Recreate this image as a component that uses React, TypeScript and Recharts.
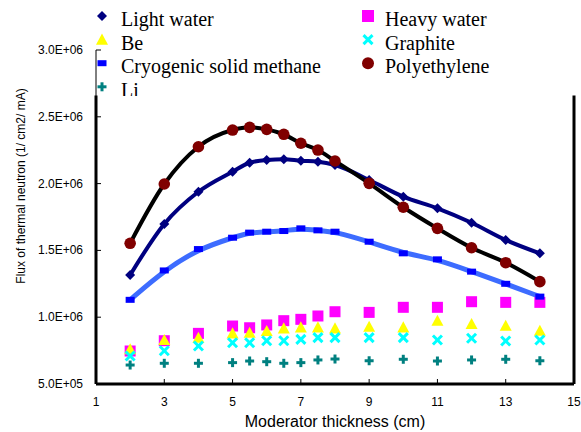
import React from "react"
import { ComposedChart, Line, XAxis, YAxis, ReferenceLine } from "recharts"

// moderator thickness (cm)
const thickness = [2, 3, 4, 5, 5.5, 6, 6.5, 7, 7.5, 8, 9, 10, 11, 12, 13, 14]

// flux of thermal neutron (1/cm2/mA)
const lightWater = [1.316e6, 1.698e6, 1.939e6, 2.089e6, 2.156e6, 2.177e6, 2.182e6, 2.171e6, 2.164e6, 2.139e6, 2.027e6, 1.902e6, 1.815e6, 1.707e6, 1.578e6, 1.478e6]
const heavyWater = [7.47e5, 8.24e5, 8.79e5, 9.34e5, 9.21e5, 9.42e5, 9.74e5, 9.84e5, 1.009e6, 1.041e6, 1.036e6, 1.074e6, 1.074e6, 1.116e6, 1.111e6, 1.111e6]
const be = [7.6e5, 8.3e5, 8.47e5, 8.79e5, 8.84e5, 8.97e5, 9.17e5, 9.24e5, 9.24e5, 9.17e5, 9.29e5, 9.24e5, 9.74e5, 9.49e5, 9.36e5, 8.99e5]
const graphite = [7.1e5, 7.49e5, 7.84e5, 8.09e5, 8.09e5, 8.24e5, 8.24e5, 8.34e5, 8.47e5, 8.47e5, 8.47e5, 8.47e5, 8.29e5, 8.42e5, 8.22e5, 8.29e5]
const methane = [1.13e6, 1.35e6, 1.51e6, 1.595e6, 1.633e6, 1.64e6, 1.645e6, 1.665e6, 1.65e6, 1.64e6, 1.565e6, 1.478e6, 1.433e6, 1.341e6, 1.25e6, 1.154e6]
const polyethylene = [1.553e6, 1.997e6, 2.276e6, 2.401e6, 2.421e6, 2.406e6, 2.369e6, 2.302e6, 2.251e6, 2.169e6, 2.002e6, 1.823e6, 1.665e6, 1.52e6, 1.408e6, 1.266e6]
const li = [6.42e5, 6.55e5, 6.55e5, 6.6e5, 6.72e5, 6.67e5, 6.55e5, 6.6e5, 6.8e5, 6.87e5, 6.74e5, 6.85e5, 6.72e5, 6.8e5, 6.85e5, 6.74e5]

const xTicks = [1, 3, 5, 7, 9, 11, 13, 15]
const yTicks = [5e5, 1e6, 1.5e6, 2e6, 2.5e6, 3e6]
const yTickLabels = ["5.0E+05", "1.0E+06", "1.5E+06", "2.0E+06", "2.5E+06", "3.0E+06"]

// top of the plot frame (hidden above by the legend)
const frameTop = 2.66e6

const rows = thickness.map((t, i) => ({
  t,
  lightWater: lightWater[i],
  heavyWater: heavyWater[i],
  be: be[i],
  graphite: graphite[i],
  methane: methane[i],
  polyethylene: polyethylene[i],
  li: li[i],
}))

const SANS = "'Liberation Sans', Arial, sans-serif"
const SERIF = "'Liberation Serif', 'Times New Roman', serif"

type Mark = (cx: number, cy: number, k?: string) => React.ReactElement

const diamond = (s: number): Mark => (cx, cy, k) => (
  <polygon key={k} points={`${cx},${cy - s} ${cx + s},${cy} ${cx},${cy + s} ${cx - s},${cy}`} fill="#000080" />
)
const square = (s: number): Mark => (cx, cy, k) => (
  <rect key={k} x={cx - s} y={cy - s} width={s * 2} height={s * 2} fill="#FF00FF" />
)
const triangle = (s: number): Mark => (cx, cy, k) => (
  <polygon key={k} points={`${cx},${cy - s} ${cx + s},${cy + s * 0.85} ${cx - s},${cy + s * 0.85}`} fill="#FFFF00" />
)
const cross = (s: number): Mark => (cx, cy, k) => (
  <g key={k} stroke="#00FFFF" strokeWidth={3}>
    <line x1={cx - s} y1={cy - s} x2={cx + s} y2={cy + s} />
    <line x1={cx - s} y1={cy + s} x2={cx + s} y2={cy - s} />
  </g>
)
const dash = (w: number, h: number): Mark => (cx, cy, k) => (
  <rect key={k} x={cx - w / 2} y={cy - h / 2} width={w} height={h} fill="#0000FF" />
)
const circle = (r: number): Mark => (cx, cy, k) => (
  <circle key={k} cx={cx} cy={cy} r={r} fill="#800000" />
)
const plus = (s: number): Mark => (cx, cy, k) => (
  <g key={k} stroke="#008080" strokeWidth={3}>
    <line x1={cx - s} y1={cy} x2={cx + s} y2={cy} />
    <line x1={cx} y1={cy - s} x2={cx} y2={cy + s} />
  </g>
)

const dotOf = (mark: Mark) => (p: any) => mark(p.cx, p.cy, `m-${p.dataKey}-${p.index}`)

function XTick(props: any) {
  const { x, y, payload } = props
  return (
    <g>
      <line x1={x} x2={x} y1={y - 5} y2={y} stroke="#000" />
      <text x={x} y={y + 22} textAnchor="middle" fontSize={12} fontFamily={SANS} fill="#000">
        {payload.value}
      </text>
    </g>
  )
}

function YTick(props: any) {
  const { x, y, payload } = props
  const label = yTickLabels[yTicks.indexOf(payload.value)]
  return (
    <g>
      <line x1={x} x2={x + 5} y1={y} y2={y} stroke="#000" />
      <text x={x - 13} y={y + 4} textAnchor="end" fontSize={12} fontFamily={SANS} fill="#000">
        {label}
      </text>
    </g>
  )
}

const legendItems: { name: string; mark: Mark; col: number; row: number }[] = [
  { name: "Light water", mark: diamond(5), col: 0, row: 0 },
  { name: "Be", mark: triangle(6), col: 0, row: 1 },
  { name: "Cryogenic solid methane", mark: dash(9, 6), col: 0, row: 2 },
  { name: "Li", mark: plus(4.5), col: 0, row: 3 },
  { name: "Heavy water", mark: square(6), col: 1, row: 0 },
  { name: "Graphite", mark: cross(4.5), col: 1, row: 1 },
  { name: "Polyethylene", mark: circle(6), col: 1, row: 2 },
]

function Overlay() {
  const markX = [102, 368]
  const textX = [121, 385]
  return (
    <svg width={581} height={432} style={{ position: "absolute", left: 0, top: 0, pointerEvents: "none" }}>
      <defs>
        <clipPath id="legendClip">
          <rect x={0} y={0} width={581} height={96} />
        </clipPath>
      </defs>
      <g clipPath="url(#legendClip)">
        {legendItems.map((it) => {
          const base = 26 + it.row * 23.6
          return (
            <g key={it.name}>
              {it.mark(markX[it.col], base - 10)}
              <text x={textX[it.col]} y={base} fontSize={20} fontFamily={SERIF} fill="#000">
                {it.name}
              </text>
            </g>
          )
        })}
      </g>
      <text x={335} y={427} textAnchor="middle" fontSize={16} fontFamily={SANS} fill="#000">
        Moderator thickness (cm)
      </text>
      <text
        x={0}
        y={0}
        transform="translate(25,186) rotate(-90)"
        textAnchor="middle"
        fontSize={12}
        fontFamily={SANS}
        fill="#000"
      >
        Flux of thermal neutron (1/ cm2/ mA)
      </text>
    </svg>
  )
}

export default function App() {
  return (
    <div style={{ position: "fixed", left: 0, top: 0, width: 581, height: 432, background: "#fff" }}>
      <ComposedChart width={581} height={432} data={rows} margin={{ top: 50, right: 7, bottom: 0, left: 0 }}>
        <XAxis
          type="number"
          dataKey="t"
          domain={[1, 15]}
          ticks={xTicks}
          interval={0}
          height={48}
          tickSize={0}
          tickMargin={0}
          tick={<XTick />}
          axisLine={{ stroke: "#000", strokeWidth: 3 }}
          tickLine={false}
        />
        <YAxis
          type="number"
          domain={[5e5, 3e6]}
          ticks={yTicks}
          interval={0}
          width={96}
          tickSize={0}
          tickMargin={0}
          tick={<YTick />}
          axisLine={{ stroke: "#000", strokeWidth: 1 }}
          tickLine={false}
          allowDataOverflow
        />
        <ReferenceLine segment={[{ x: 1, y: 5e5 }, { x: 1, y: frameTop }]} stroke="#000" strokeWidth={3} />
        <ReferenceLine segment={[{ x: 15, y: 5e5 }, { x: 15, y: frameTop }]} stroke="#000" strokeWidth={3} />

        <Line dataKey="lightWater" stroke="none" dot={dotOf(diamond(5))} activeDot={false} isAnimationActive={false} />
        <Line dataKey="heavyWater" stroke="none" dot={dotOf(square(5.5))} activeDot={false} isAnimationActive={false} />
        <Line dataKey="be" stroke="none" dot={dotOf(triangle(6))} activeDot={false} isAnimationActive={false} />
        <Line dataKey="graphite" stroke="none" dot={dotOf(cross(4.5))} activeDot={false} isAnimationActive={false} />
        <Line dataKey="methane" stroke="none" dot={dotOf(dash(9, 6))} activeDot={false} isAnimationActive={false} />
        <Line dataKey="polyethylene" stroke="none" dot={dotOf(circle(5.8))} activeDot={false} isAnimationActive={false} />
        <Line dataKey="li" stroke="none" dot={dotOf(plus(4.5))} activeDot={false} isAnimationActive={false} />

        <Line dataKey="lightWater" name="lightWaterFit" type="monotone" stroke="#000080" strokeWidth={4} dot={false} activeDot={false} isAnimationActive={false} />
        <Line dataKey="methane" name="methaneFit" type="basis" stroke="#3D6CFF" strokeWidth={5} dot={false} activeDot={false} isAnimationActive={false} />
        <Line dataKey="polyethylene" name="polyFit" type="monotone" stroke="#000" strokeWidth={4} dot={false} activeDot={false} isAnimationActive={false} />
      </ComposedChart>
      <Overlay />
    </div>
  )
}
